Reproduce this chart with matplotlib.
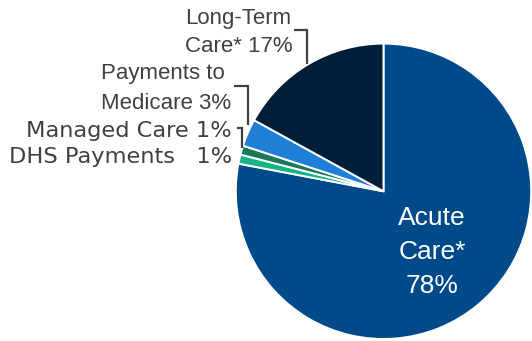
import matplotlib
matplotlib.use("Agg")
import matplotlib.pyplot as plt

# Medicaid spending shares by service category (percent)
categories = ["Acute Care*", "DHS Payments", "Managed Care",
              "Payments to Medicare", "Long-Term Care*"]
shares = [78, 1, 1, 3, 17]
colors = ["#004A8A", "#14B487", "#1A785C", "#1F7FD6", "#001E38"]

W, H = 532, 341
fig = plt.figure(figsize=(W / 100, H / 100), dpi=100)
ax = fig.add_axes([0, 0, 1, 1])

cx, cy, r = 383.5, H - 191.3, 147.7
ax.pie(shares, colors=colors, startangle=90, counterclock=False,
       center=(cx, cy), radius=r,
       wedgeprops=dict(edgecolor="white", linewidth=1.4))
ax.set_xlim(0, W)
ax.set_ylim(0, H)
ax.set_aspect("equal")
ax.axis("off")

gray = "#404040"


def py(y):
    return H - y


def lines(x, y0, step, rows, ha, **kw):
    for i, row in enumerate(rows):
        ax.text(x, py(y0 + i * step), row, ha=ha, va="baseline", **kw)


upper = dict(family="Liberation Sans", fontsize=16, color=gray)
lower = dict(family="DejaVu Sans", fontsize=16.2, color=gray)

lines(185, 24, 28, ["Long-Term", f"Care* {shares[4]}%"], "left", **upper)
lines(101, 79, 30, ["Payments to", f"Medicare {shares[3]}%"], "left", **upper)
lines(232, 137, 0, [f"Managed Care {shares[2]}%"], "right", **lower)
lines(232, 163, 0, [f"DHS Payments   {shares[1]}%"], "right", **lower)

lines(432, 225, 34, ["Acute", "Care*", f"{shares[0]}%"], "center",
      family="Liberation Sans", fontsize=19, color="white")

# leader lines
lw = 1.6
for xs, ys in [
    ([294, 307, 307], [30, 30, 64]),
    ([234, 248, 248], [86, 86, 125]),
    ([237, 242, 242], [128, 128, 148]),
]:
    ax.plot(xs, [py(v) for v in ys], color=gray, linewidth=lw,
            solid_joinstyle="miter", solid_capstyle="butt")

fig.savefig("out.png", dpi=100)
